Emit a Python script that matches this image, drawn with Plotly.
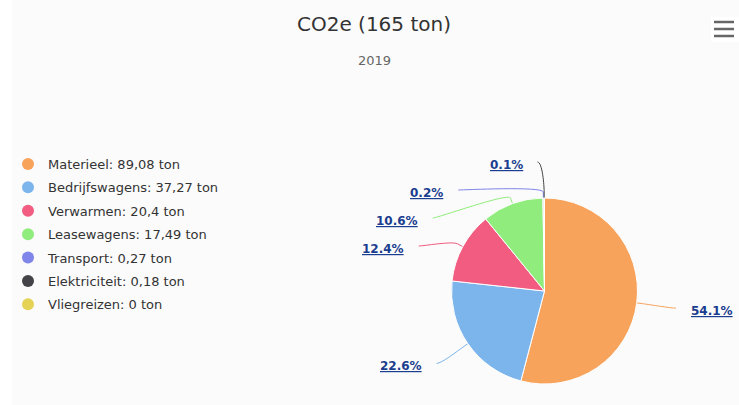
import math
import plotly.graph_objects as go

# ---- data ----
categories = ["Materieel", "Bedrijfswagens", "Verwarmen", "Leasewagens",
              "Transport", "Elektriciteit", "Vliegreizen"]
values = [89.08, 37.27, 20.4, 17.49, 0.27, 0.18, 0]
colors = ["#f7a35c", "#7cb5ec", "#f15c80", "#90ed7d", "#8085e9", "#434348", "#e4d354"]
year_label = "2019"
unit = "ton"

W, H = 739, 405
def px(x):
    return x / W
def py(y):
    return 1 - y / H

total = sum(values)
CX, CY, R = 544.5, 291.0, 93.0

fig = go.Figure()

# pie
fig.add_trace(go.Pie(
    labels=categories, values=values, sort=False, direction="clockwise",
    rotation=0, marker=dict(colors=colors, line=dict(color="#ffffff", width=1)),
    textinfo="none", hoverinfo="label+value+percent", showlegend=False,
    domain=dict(x=[px(CX - R), px(CX + R)], y=[py(CY + R), py(CY - R)]),
))

# legend via dummy circle traces
for i, (c, v, col) in enumerate(zip(categories, values, colors)):
    fig.add_trace(go.Scatter(
        x=[None], y=[None], mode="markers", name=f"{c}: {v:g}".replace(".", ",") + f" {unit}",
        marker=dict(symbol="circle", size=12, color=col),
        legendgroup=f"g{i}", showlegend=True, hoverinfo="skip",
    ))

# ---- data label placement (Highcharts-like) ----
LABEL_R = 126.0
SPACING = 28.0
YMIN, YMAX = 165.0, 395.0
labels = []
cum = 0.0
for c, v, col in zip(categories, values, colors):
    frac = v / total
    mid = (cum + frac / 2) * 2 * math.pi
    cum += frac
    if v <= 0:
        continue
    side = "right" if math.sin(mid) > 0 else "left"
    target = CY - LABEL_R * math.cos(mid) + 4
    labels.append(dict(theta=mid, side=side, target=target, color=col,
                       text=f"{frac * 100:.1f}%"))

def distribute(items):
    items = sorted(items, key=lambda d: d["target"])
    clusters = []
    for it in items:
        clusters.append([it])
        while True:
            cl = clusters[-1]
            n = len(cl)
            y0 = sum(d["target"] for d in cl) / n - SPACING * (n - 1) / 2
            y0 = max(YMIN, min(y0, YMAX - SPACING * (n - 1)))
            if len(clusters) > 1:
                prev = clusters[-2]
                if prev[0]["y"] + SPACING * len(prev) > y0:
                    clusters[-2] = prev + cl
                    clusters.pop()
                    continue
            for k, d in enumerate(cl):
                d["y"] = y0 + k * SPACING
            break
    return items

for s in ("left", "right"):
    distribute([d for d in labels if d["side"] == s])

shapes = [
    dict(type="rect", xref="paper", yref="paper", x0=px(12), x1=px(W), y0=py(H), y1=py(0),
         fillcolor="#fbfbfb", line=dict(width=0), layer="below"),
    dict(type="rect", xref="paper", yref="paper", x0=px(711), x1=px(W), y0=py(42), y1=py(17),
         fillcolor="#ffffff", line=dict(width=0), layer="below"),
]
for yy in (22, 29, 36):
    shapes.append(dict(type="line", xref="paper", yref="paper", x0=px(714), x1=px(734),
                       y0=py(yy), y1=py(yy), line=dict(color="#666666", width=2.5)))

annotations = []
for d in labels:
    sgn = 1 if d["side"] == "right" else -1
    dy = d["y"] - CY
    off = math.sqrt(max(0.0, LABEL_R ** 2 - dy ** 2))
    text_x = CX + sgn * (off + 20)
    sx, sy = CX + sgn * (off + 7), d["y"] - 3
    bx = CX + (R + 6) * math.sin(d["theta"])
    by = CY - (R + 6) * math.cos(d["theta"])
    tx = CX + R * math.sin(d["theta"])
    ty = CY - R * math.cos(d["theta"])
    c1x = sx - 5 * sgn
    path = (f"M {px(sx)},{py(sy)} C {px(c1x)},{py(sy)} {px(2 * bx - tx)},{py(2 * by - ty)} "
            f"{px(bx)},{py(by)} L {px(tx)},{py(ty)}")
    shapes.append(dict(type="path", xref="paper", yref="paper", path=path,
                       line=dict(color=d["color"], width=1), layer="below"))
    annotations.append(dict(
        x=px(text_x), y=py(d["y"]), xref="paper", yref="paper", showarrow=False,
        xanchor="left" if sgn > 0 else "right", yanchor="middle",
        text=f'<span style="text-decoration:underline"><b>{d["text"]}</b></span>',
        font=dict(family="DejaVu Sans", size=12, color="#1a3d8f"),
    ))

annotations.append(dict(x=px(374), y=py(24), xref="paper", yref="paper", showarrow=False,
                        xanchor="center", yanchor="middle", text=f"CO2e ({round(total)} {unit})",
                        font=dict(family="DejaVu Sans", size=20, color="#333333")))
annotations.append(dict(x=px(374), y=py(60), xref="paper", yref="paper", showarrow=False,
                        xanchor="center", yanchor="middle", text=year_label,
                        font=dict(family="DejaVu Sans", size=13, color="#666666")))

fig.update_layout(
    width=W, height=H, margin=dict(l=0, r=0, t=0, b=0),
    paper_bgcolor="#ffffff", plot_bgcolor="rgba(0,0,0,0)",
    xaxis=dict(visible=False), yaxis=dict(visible=False),
    shapes=shapes, annotations=annotations,
    legend=dict(x=px(8), y=py(149), xanchor="left", yanchor="top",
                traceorder="grouped", tracegroupgap=3.5,
                font=dict(family="DejaVu Sans", size=13, color="#333333"),
                bgcolor="rgba(0,0,0,0)"),
    font=dict(family="DejaVu Sans"),
)

fig.write_html("out.html", config={"displayModeBar": False},
               post_script="document.body.style.margin='0';document.body.style.padding='0';")
